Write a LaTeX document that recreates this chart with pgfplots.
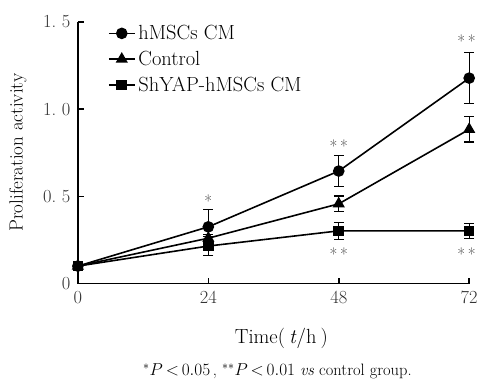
\documentclass[border=0pt]{standalone}
\usepackage{pgfplots}
\pgfplotsset{compat=1.18}
\begin{document}
\begin{tikzpicture}
\begin{axis}[
  scale only axis, width=392pt, height=262pt,
  xmin=0, xmax=72, ymin=0, ymax=1.5,
  clip=false,
  axis lines=left,
  axis line style={-, line width=1.6pt},
  xtick={0,24,48,72}, xticklabels={0,24,48,72},
  ytick={0,0.5,1,1.5}, yticklabels={0,0.\ 5,1.\ 0,1.\ 5},
  tick align=inside, major tick length=6pt,
  tick style={line width=1.6pt, black},
  ticklabel style={font=\fontsize{18.5}{21}\selectfont, text=black!80},
  xticklabel style={yshift=-4pt},
  yticklabel style={xshift=-4pt},
  ylabel={Proliferation activity},
  ylabel style={at={(axis description cs:-0.153,0.5)}, anchor=center, font=\fontsize{19}{22}\selectfont},
  xlabel={Time(\hspace{0.2em}\textit{t}/h\hspace{0.2em})},
  xlabel style={at={(axis description cs:0.52,-0.21)}, anchor=center, font=\fontsize{20.5}{23}\selectfont},
  legend style={at={(0.077,0.995)}, anchor=north west, draw=none, fill=none,
    font=\fontsize{20.5}{23}\selectfont, row sep=6pt, inner sep=0pt,
    nodes={inner xsep=3pt}},
  legend cell align=left,
  legend image code/.code={\draw[mark repeat=2,mark phase=2] plot coordinates {(0cm,0cm)(0.45cm,0cm)(0.9cm,0cm)};},
  error bars/error bar style={line width=1.2pt, black},
  error bars/error mark options={rotate=90, mark size=5pt, line width=1.2pt, black},
]
\addplot[black, line width=1.6pt, mark=*, mark size=5pt, mark options={solid, fill=black},
  error bars/.cd, y dir=both, y explicit]
  coordinates {(0,0.10) +- (0,0) (24,0.325) +- (0,0.10) (48,0.645) +- (0,0.09) (72,1.178) +- (0,0.145)};
\addlegendentry{hMSCs CM}
\addplot[black, line width=1.6pt, mark=triangle*, mark size=5.5pt, mark options={solid, fill=black},
  error bars/.cd, y dir=both, y explicit]
  coordinates {(0,0.10) +- (0,0) (24,0.26) +- (0,0.02) (48,0.457) +- (0,0.045) (72,0.884) +- (0,0.072)};
\addlegendentry{Control}
\addplot[black, line width=1.6pt, mark=square*, mark size=4.5pt, mark options={solid, fill=black},
  error bars/.cd, y dir=both, y explicit]
  coordinates {(0,0.10) +- (0,0) (24,0.215) +- (0,0.055) (48,0.302) +- (0,0.05) (72,0.302) +- (0,0.042)};
\addlegendentry{ShYAP-hMSCs CM}
\node[font=\fontsize{17}{19}\selectfont, text=black!75] at (axis cs:24,0.47) {*};
\node[font=\fontsize{17}{19}\selectfont, text=black!75] at (axis cs:48,0.79) {*\,*};
\node[font=\fontsize{17}{19}\selectfont, text=black!75] at (axis cs:71.5,1.39) {*\,*};
\node[font=\fontsize{17}{19}\selectfont, text=black!75] at (axis cs:48,0.17) {*\,*};
\node[font=\fontsize{17}{19}\selectfont, text=black!75] at (axis cs:71.5,0.17) {*\,*};
\node[font=\fontsize{16.5}{19}\selectfont, anchor=center] at (axis description cs:0.51,-0.335)
  {$^{*}P\,{<}\,0.05$\,, $^{**}P\,{<}\,0.01$ \textit{vs} control group.};
\path (axis description cs:0,0) ++(-78pt,-100pt) coordinate (bbA);
\path (axis description cs:0,0) ++(403pt,284pt) coordinate (bbB);
\end{axis}
\useasboundingbox (bbA) rectangle (bbB);
\end{tikzpicture}
\end{document}
